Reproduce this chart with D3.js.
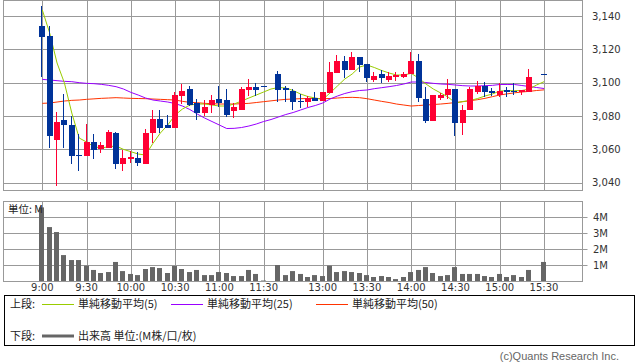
<!DOCTYPE html>
<html><head><meta charset="utf-8">
<script src="https://cdn.jsdelivr.net/npm/d3@7"></script>
<style>body{margin:0;background:#fff}svg{display:block}</style>
</head><body>
<script>
// ---- data ----
const opens  = [3134,3128,3065.8,3077.6,3074.6,3056.8,3056.2,3064.6,3060.4,3061,3069.8,3051.4,3054.4,3055,3051.4,3070,3078.4,3074.8,3073,3092.2,3096.4,3087.8,3082,3086.8,3090.2,3089.6,3083.2,3083.8,3095.6,3097.4,3098,null,3105.2,3096.8,3095,3089,3088.4,3090.8,3089.2,3093.8,3105.8,3113,3107.6,3115.4,3111.2,3101.6,3105.2,3101.6,3103.4,3103.4,3105.2,3113,3090.2,3077.2,3091,3092.8,3096.2,3076,3083.6,3094.4,3098,3095,3092.6,3095.6,3095,3094.4,3094.4,null,3105.2];
const highs  = [3146,3134,3082.4,3093.2,3080,3069.2,3075.2,3069.2,3064.6,3071.8,3070.6,3059.8,3059.2,3058.6,3072.4,3083.8,3083.8,3080.6,3094.6,3099.4,3098.2,3090.2,3089.6,3092.6,3098,3096.2,3087.8,3097.4,3102.2,3099.8,3098,null,3107,3098,3096.2,3093.2,3092,3094.4,3094.6,3112.4,3116.6,3116,3118.4,3115.4,3111.2,3106.4,3107.6,3106.4,3106.4,3106.4,3118.4,3117.2,3097.6,3092.6,3094,3102.2,3096.2,3086.6,3097.4,3101,3100.4,3096.8,3099.8,3097.4,3099.8,3095.6,3108.2,null,3105.2];
const lows   = [3103.6,3061,3038.2,3061,3051.4,3047.2,3056.2,3054.4,3058,3061,3048.4,3047.2,3052,3050.2,3051.4,3064,3070,3073,3073,3087,3086.2,3077.8,3080.2,3082,3085.4,3079.6,3079,3083.8,3092.2,3092.2,3097.6,null,3088.4,3088.4,3083.6,3084.8,3085.4,3089,3089.2,3093.8,3105.8,3102.8,3107.6,3106.4,3100.4,3100.4,3099.8,3100.4,3101,3102.8,3105.2,3088.4,3076,3077.2,3089.6,3090.4,3068.2,3068.6,3083.6,3093.2,3091.4,3092,3091.4,3091.4,3092.6,3092.6,3094.4,null,3104.8];
const closes = [3127.6,3068.2,3076.4,3074.6,3056.2,3056.2,3064.6,3059.8,3062.8,3070.6,3051.4,3055,3055.6,3052,3069.8,3078.4,3073,3073,3092.8,3095.2,3086.8,3082,3085.4,3089.6,3087.8,3080.6,3085.4,3096.2,3097.4,3095.6,3097.6,null,3095.6,3095.6,3088.4,3088.4,3090.8,3089,3094.6,3106.4,3113,3107.6,3115.4,3110.6,3102.8,3104,3102.8,3104,3104.6,3105.2,3113,3090.8,3077.2,3092.6,3092.8,3096.4,3076,3083.6,3096.2,3098,3094.4,3093.8,3095,3094.4,3094.4,3095.6,3103.4,null,3104.8];
const volumes = [4.6,3.37,3.06,1.62,1.31,1.31,0.96,0.69,0.5,0.56,1.19,0.62,0.44,0.37,0.75,0.87,0.81,0.5,0.94,0.75,0.56,0.69,0.37,0.37,0.56,0.5,0.31,0.31,0.69,0.44,0.03,null,1.0,0.37,0.62,0.44,0.25,0.37,0.31,0.96,0.56,0.62,0.56,0.5,0.37,0.25,0.31,0.25,0.12,0.25,0.56,0.69,0.87,0.5,0.31,0.37,0.87,0.44,0.44,0.44,0.31,0.25,0.44,0.25,0.37,0.25,0.69,null,1.19];
const ma5  = [3143.6,3129.8,3111.8,3099.8,3081.8,3066.8,3064.4,3061.6,3060.8,3061.6,3062.0,3060.0,3058.6,3057.2,3056.6,3063.6,3069.8,3074.6,3080.6,3084.2,3086.6,3087.2,3087.2,3086.6,3086.0,3086.0,3087.2,3089.0,3090.8,3092.6,3094.4,3096.2,3097.1,3096.8,3095.3,3093.2,3091.7,3090.8,3089.9,3093.8,3098.0,3102.2,3105.2,3109.4,3110.6,3109.1,3107.3,3105.8,3104.6,3104.6,3105.6,3102.8,3099.2,3096.2,3093.8,3091.4,3087.8,3088.7,3089.3,3090.5,3092.0,3093.2,3095.0,3095.2,3095.2,3095.3,3096.2,3098.6,3100.6];
const ma25 = [3102.0,3101.6,3101.2,3100.8,3100.6,3100.0,3099.6,3099.4,3099.0,3098.4,3097.6,3096.2,3094.2,3092.6,3090.8,3089.6,3089.0,3088.4,3087.5,3086.0,3083.9,3081.2,3078.8,3076.7,3074.6,3072.5,3072.6,3073.1,3074.0,3075.2,3076.7,3077.9,3079.4,3080.9,3082.1,3083.6,3085.1,3086.3,3087.8,3090.2,3092.0,3093.5,3094.6,3095.3,3095.6,3096.4,3097.0,3097.6,3098.3,3099.2,3100.4,3100.4,3100.1,3099.6,3099.2,3099.0,3098.6,3098.2,3098.0,3098.0,3098.2,3098.4,3098.9,3098.9,3098.9,3098.3,3097.7,3097.1,3096.5];
const ma50 = [3087.6,3087.8,3088.4,3089.0,3089.4,3089.6,3090.0,3090.3,3090.6,3090.8,3091.0,3090.8,3090.6,3090.5,3090.4,3090.2,3090.0,3089.8,3089.6,3088.8,3088.2,3088.0,3087.6,3087.4,3087.2,3087.2,3087.2,3087.4,3087.6,3088.1,3088.6,3089.1,3089.6,3090.0,3090.2,3090.4,3090.5,3090.6,3090.4,3090.5,3090.8,3091.1,3091.2,3091.0,3090.4,3089.6,3088.8,3088.1,3087.2,3086.6,3086.0,3086.3,3086.6,3086.9,3087.2,3087.6,3088.1,3088.6,3089.2,3089.8,3090.6,3091.6,3092.6,3093.3,3093.9,3094.4,3094.8,3095.3,3095.7];
const timeTickIdx = [0,6,12,18,24,30,38,44,50,56,62,68];
const timeTickLabels = ["9:00","9:30","10:00","10:30","11:00","11:30","13:00","13:30","14:00","14:30","15:00","15:30"];
const priceTicks = [3040,3060,3080,3100,3120,3140];
const volTicks = [1,2,3,4];
const volTickLabels = ["1M","2M","3M","4M"];
const legendItems = [
  {label:"単純移動平均(5)", color:"#99cc00"},
  {label:"単純移動平均(25)", color:"#9900ff"},
  {label:"単純移動平均(50)", color:"#ff3300"}
];

// ---- drawing ----
const W=638,H=362;
const svg=d3.select("body").append("svg").attr("width",W).attr("height",H);
svg.append("rect").attr("width",W).attr("height",H).attr("fill","#fff");
const L=3.5,R=582.5;
const x=d3.scaleLinear().domain([0,68]).range([42.3,544]);
const y=d3.scaleLinear().domain([3040,3140]).range([182.7,16]);
const yv=d3.scaleLinear().domain([0,5]).range([281,201]);
const px=v=>Math.round(v)+0.5;
const gridC="#999";
const font="'DejaVu Sans', Verdana, sans-serif";
const jfont="'Noto Sans CJK JP', 'Noto Sans', sans-serif";

function panel(top,bottom,hVals,yScale){
  const g=svg.append("g");
  g.selectAll(".h").data(hVals).join("line")
    .attr("x1",L).attr("x2",R).attr("y1",d=>px(yScale(d))).attr("y2",d=>px(yScale(d)))
    .attr("stroke",gridC).attr("stroke-width",1);
  g.selectAll(".v").data(timeTickIdx).join("line")
    .attr("x1",d=>px(x(d))).attr("x2",d=>px(x(d))).attr("y1",top).attr("y2",bottom)
    .attr("stroke",gridC).attr("stroke-width",1);
  g.append("rect").attr("x",L).attr("y",top).attr("width",R-L).attr("height",bottom-top)
    .attr("fill","none").attr("stroke",gridC).attr("stroke-width",1);
  return g;
}
panel(0.5,190.5,priceTicks,y);
panel(201.5,281.5,volTicks,yv);

// price labels
svg.append("g").selectAll("text").data(priceTicks).join("text")
  .attr("x",592).attr("y",d=>y(d)).attr("dy","0.35em")
  .attr("font-family",font).attr("font-size",10).attr("fill","#333")
  .text(d=>d3.format(",")(d));

// MA lines
const lineGen=d3.line().x((d,i)=>x(i)).y(d=>y(d));
[[ma50,"#ff3300"],[ma25,"#9900ff"],[ma5,"#99cc00"]].forEach(([arr,c])=>{
  svg.append("path").datum(arr).attr("d",lineGen).attr("fill","none")
    .attr("stroke",c).attr("stroke-width",1);
});

// candles
const candles=opens.map((o,i)=>({i,o,h:highs[i],l:lows[i],c:closes[i]})).filter(d=>d.o!=null);
const cg=svg.append("g");
candles.forEach(d=>{
  const col=d.c>d.o?"#ff0033":"#003399";
  const cx=Math.round(x(d.i));
  cg.append("line").attr("x1",cx-0.5).attr("x2",cx-0.5)
    .attr("y1",Math.round(y(d.h))).attr("y2",Math.round(y(d.l)))
    .attr("stroke",col).attr("stroke-width",1);
  const t=Math.round(y(Math.max(d.o,d.c))), b=Math.round(y(Math.min(d.o,d.c)));
  cg.append("rect").attr("x",cx-3).attr("width",6)
    .attr("y",t).attr("height",Math.max(1,b-t)).attr("fill",col);
});

// volume bars
svg.append("g").selectAll("rect").data(volumes.map((v,i)=>({v,i})).filter(d=>d.v!=null)).join("rect")
  .attr("x",d=>Math.round(x(d.i))-3).attr("width",5)
  .attr("y",d=>yv(d.v)).attr("height",d=>281-yv(d.v)).attr("fill","#666");

// volume axis ticks & labels
svg.append("g").selectAll("line").data(volTicks).join("line")
  .attr("x1",R).attr("x2",R+5).attr("y1",d=>px(yv(d))).attr("y2",d=>px(yv(d)))
  .attr("stroke",gridC);
svg.append("g").selectAll("text").data(volTicks).join("text")
  .attr("x",593).attr("y",d=>yv(d)).attr("dy","0.35em")
  .attr("font-family",font).attr("font-size",10).attr("fill","#333")
  .text((d,i)=>volTickLabels[i]);

svg.append("text").attr("x",8).attr("y",213).attr("font-family",jfont).attr("font-size",10.5)
  .attr("fill","#222").text("単位: M");

// time labels
svg.append("g").selectAll("text").data(timeTickIdx).join("text")
  .attr("x",d=>x(d)).attr("y",291).attr("text-anchor","middle")
  .attr("font-family",font).attr("font-size",10).attr("fill","#333")
  .text((d,i)=>timeTickLabels[i]);

// legend
svg.append("rect").attr("x",4.5).attr("y",295.5).attr("width",630).attr("height",50)
  .attr("fill","none").attr("stroke","#000").attr("stroke-width",1);
const lg=svg.append("g").attr("font-family",jfont).attr("font-size",11).attr("fill","#222");
lg.append("text").attr("x",10).attr("y",304).attr("dy","0.35em").text("上段:");
const legX=[42,171,316];
legendItems.forEach((it,k)=>{
  lg.append("line").attr("x1",legX[k]).attr("x2",legX[k]+32).attr("y1",304.5).attr("y2",304.5)
    .attr("stroke",it.color).attr("stroke-width",1);
  lg.append("text").attr("x",legX[k]+36).attr("y",304).attr("dy","0.35em").text(it.label);
});
lg.append("text").attr("x",10).attr("y",336).attr("dy","0.35em").text("下段:");
lg.append("line").attr("x1",42).attr("x2",74).attr("y1",336).attr("y2",336)
  .attr("stroke","#666").attr("stroke-width",3);
lg.append("text").attr("x",78).attr("y",336).attr("dy","0.35em").text("出来高 単位:(M株/口/枚)");

svg.append("text").attr("x",619).attr("y",360).attr("text-anchor","end")
  .attr("font-family","'Liberation Sans', Arial, sans-serif").attr("font-size",11)
  .attr("fill","#666").text("(c)Quants Research Inc.");
</script>
</body></html>
